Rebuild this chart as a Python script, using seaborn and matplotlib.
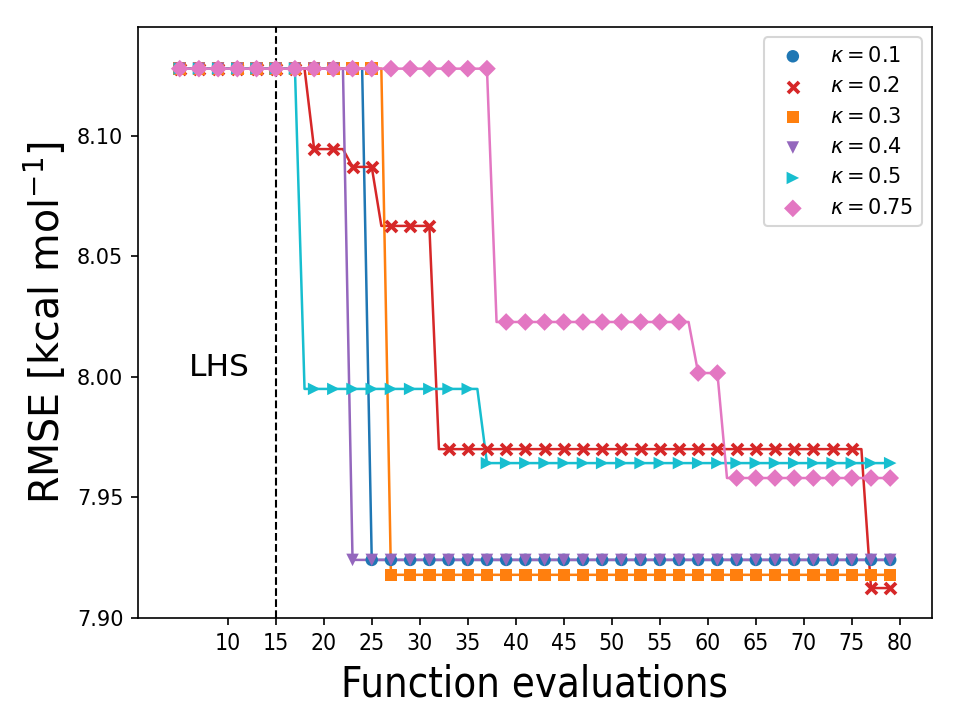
import numpy as np
import pandas as pd
import matplotlib
matplotlib.use("Agg")
import matplotlib.pyplot as plt
import seaborn as sns

# Evaluation range and marker positions
x_start, x_end = 5, 79

# Each series: evaluation numbers where the best RMSE changes, and the new value
labels = [r"$\kappa = 0.1$", r"$\kappa = 0.2$", r"$\kappa = 0.3$",
          r"$\kappa = 0.4$", r"$\kappa = 0.5$", r"$\kappa = 0.75$"]
k01_x = [5, 25]
k01_y = [8.128, 7.924]
k02_x = [5, 19, 23, 26, 32, 77]
k02_y = [8.128, 8.0946, 8.0872, 8.0627, 7.970, 7.9123]
k03_x = [5, 27]
k03_y = [8.128, 7.9178]
k04_x = [5, 23]
k04_y = [8.128, 7.924]
k05_x = [5, 18, 37]
k05_y = [8.128, 7.995, 7.9642]
k075_x = [5, 38, 59, 62]
k075_y = [8.128, 8.0228, 8.0016, 7.958]

series_x = [k01_x, k02_x, k03_x, k04_x, k05_x, k075_x]
series_y = [k01_y, k02_y, k03_y, k04_y, k05_y, k075_y]
colors = ["tab:blue", "tab:red", "tab:orange", "tab:purple", "tab:cyan", "tab:pink"]
markers = ["o", "x", "s", "v", ">", "D"]

fig, ax = plt.subplots(figsize=(6.4, 4.8), dpi=150)
fig.subplots_adjust(left=0.1437, right=0.9708, bottom=0.1421, top=0.9625)

evals = np.arange(x_start, x_end + 1)
for lab, bx, by, c, m in zip(labels, series_x, series_y, colors, markers):
    bx = list(bx) + [x_end + 1]
    counts = np.diff(bx)
    vals = np.repeat(by, counts)
    df = pd.DataFrame({"x": evals, "y": vals})
    sns.lineplot(data=df, x="x", y="y", color=c, linewidth=1.2, ax=ax, legend=False)
    dfm = df[df["x"] % 2 == 1]
    if m == "x":
        sns.scatterplot(data=dfm, x="x", y="y", color=c, marker=m, s=28,
                        linewidth=1.8, ax=ax, label=lab, zorder=3)
    else:
        sns.scatterplot(data=dfm, x="x", y="y", color=c, marker=m, s=36,
                        edgecolor="none", linewidth=0, ax=ax, label=lab, zorder=3)

ax.axvline(15, color="black", linestyle="--", linewidth=1.0)
ax.text(9.1, 8.0037, "LHS", fontsize=15, ha="center", va="center")

ax.set_xlim(0.65, 83.35)
ax.set_ylim(7.90, 8.1453)
ax.set_xticks(np.arange(10, 81, 5))
ax.set_yticks([7.90, 7.95, 8.00, 8.05, 8.10])
ax.set_yticklabels(["7.90", "7.95", "8.00", "8.05", "8.10"], fontsize=10)
for t in ax.get_xticklabels():
    t.set_fontsize(11)
    t.set_fontstretch("condensed")
ax.set_xlabel("Function evaluations", fontsize=20, fontstretch="condensed")
ax.set_ylabel(r"RMSE [kcal mol$^{-1}$]", fontsize=19)
ax.legend(loc="upper right", fontsize=10)

fig.savefig("out.png", dpi=150)
